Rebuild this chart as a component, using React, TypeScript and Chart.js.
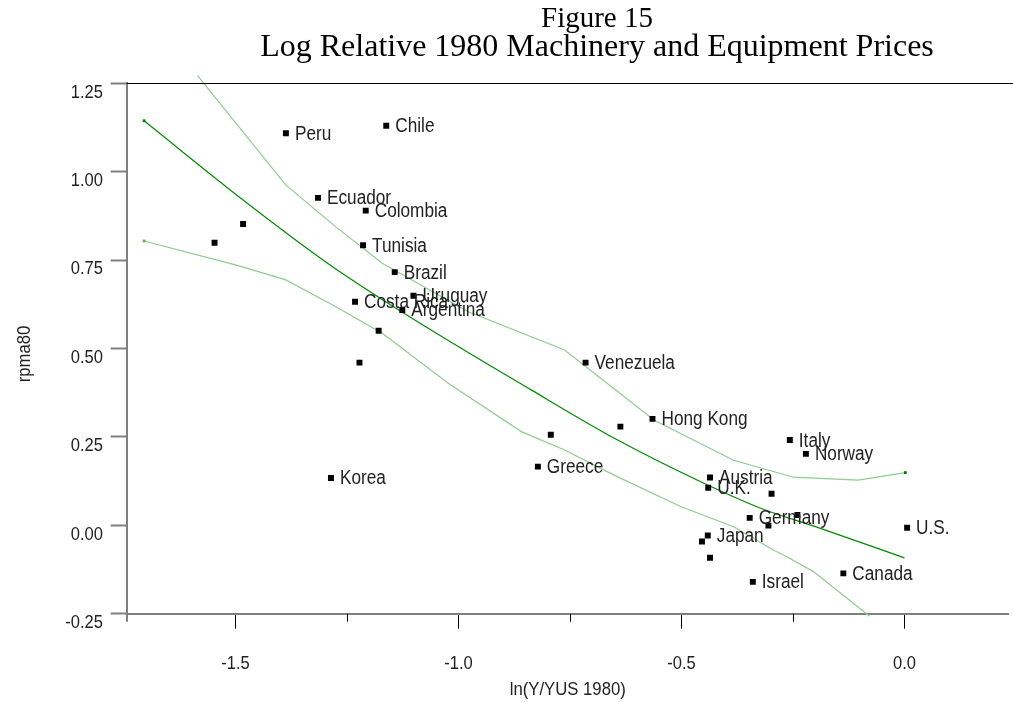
import React, { useEffect, useRef } from "react";
import { Chart, registerables } from "chart.js";

Chart.register(...registerables);

// ---- Data ----
const countries = [
  "Peru", "Chile", "Ecuador", "Colombia", "Tunisia", "Brazil", "Uruguay", "Costa Rica", "Argentina",
  "", "", "", "", "Korea", "Venezuela", "", "Greece", "", "Hong Kong", "Italy", "Norway",
  "Austria", "U.K.", "", "Germany", "", "", "Japan", "", "", "Israel", "Canada", "U.S.",
];
const lnY = [
  -1.387, -1.162, -1.315, -1.208, -1.214, -1.143, -1.101, -1.232, -1.126,
  -1.179, -1.222, -1.483, -1.547, -1.286, -0.715, -0.793, -0.822, -0.637, -0.565, -0.257, -0.221,
  -0.436, -0.440, -0.298, -0.347, -0.240, -0.305, -0.441, -0.454, -0.436, -0.340, -0.137, 0.006,
];
const rpma80 = [
  1.109, 1.130, 0.926, 0.890, 0.792, 0.716, 0.649, 0.632, 0.609,
  0.550, 0.460, 0.852, 0.799, 0.134, 0.460, 0.256, 0.166, 0.279, 0.301, 0.241, 0.202,
  0.135, 0.106, 0.089, 0.021, 0.029, -0.001, -0.029, -0.046, -0.092, -0.160, -0.136, -0.007,
];

const fitX = [-1.705, -1.491, -1.292, -1.125, -0.837, -0.643, -0.465, -0.324, -0.190, 0.0];
const fitY = [1.144, 0.928, 0.740, 0.602, 0.383, 0.241, 0.128, 0.049, -0.008, -0.092];

const upperX = [-1.585, -1.387, -1.275, -1.171, -0.978, -0.762, -0.561, -0.383, -0.249, -0.104, 0.002];
const upperY = [1.272, 0.962, 0.844, 0.741, 0.604, 0.496, 0.297, 0.184, 0.136, 0.128, 0.149];

const lowerX = [-1.705, -1.498, -1.387, -1.275, -1.171, -1.023, -0.859, -0.762, -0.651, -0.502, -0.383, -0.294, -0.271, -0.204, -0.078];
const lowerY = [0.804, 0.736, 0.694, 0.618, 0.543, 0.402, 0.265, 0.213, 0.142, 0.053, -0.004, -0.070, -0.084, -0.131, -0.257];

const xTicks = [-1.5, -1.0, -0.5, 0.0];
const xTickLabels = ["-1.5", "-1.0", "-0.5", "0.0"];
const xMinorTicks = [-1.25, -0.75, -0.25];
const yTicks = [-0.25, 0.0, 0.25, 0.5, 0.75, 1.0, 1.25];
const yTickLabels = ["-0.25", "0.00", "0.25", "0.50", "0.75", "1.00", "1.25"];

const titleLines = ["Figure 15", "Log Relative 1980 Machinery and Equipment Prices"];
const xTitle = "ln(Y/YUS 1980)";
const yTitle = "rpma80";

const SANS = "'Liberation Sans', Arial, sans-serif";
const SERIF = "'Liberation Serif', 'Times New Roman', serif";

function narrowText(
  ctx: CanvasRenderingContext2D,
  text: string,
  x: number,
  y: number,
  size: number,
  sx: number,
  align: CanvasTextAlign,
  baseline: CanvasTextBaseline,
  rot = 0
) {
  ctx.save();
  ctx.translate(x, y);
  if (rot) ctx.rotate(rot);
  ctx.scale(sx, 1);
  ctx.font = `${size}px ${SANS}`;
  ctx.textAlign = align;
  ctx.textBaseline = baseline;
  ctx.fillText(text, 0, 0);
  ctx.restore();
}

export default function App() {
  const ref = useRef<HTMLCanvasElement>(null);

  useEffect(() => {
    const canvas = ref.current;
    if (!canvas) return;
    const pts = lnY.map((x, i) => ({ x, y: rpma80[i] }));
    const line = (xs: number[], ys: number[]) => xs.map((x, i) => ({ x, y: ys[i] }));

    const decor = {
      id: "decor",
      afterDraw(chart: any) {
        const ctx = chart.ctx as CanvasRenderingContext2D;
        const { left, right, top, bottom } = chart.chartArea;
        const xs = chart.scales.x;
        const ys = chart.scales.y;
        ctx.save();
        // top frame line
        ctx.strokeStyle = "#000";
        ctx.lineWidth = 1;
        ctx.beginPath();
        ctx.moveTo(left, Math.round(top) + 0.5);
        ctx.lineTo(chart.width, Math.round(top) + 0.5);
        ctx.stroke();
        // minor x ticks
        ctx.beginPath();
        xMinorTicks.forEach((v) => {
          const px = Math.round(xs.getPixelForValue(v)) + 0.5;
          ctx.moveTo(px, bottom);
          ctx.lineTo(px, bottom + 8);
        });
        ctx.stroke();
        // y axis extension below x axis
        ctx.strokeStyle = "#808080";
        ctx.lineWidth = 2;
        ctx.beginPath();
        ctx.moveTo(Math.round(left), bottom);
        ctx.lineTo(Math.round(left), bottom + 8);
        ctx.stroke();

        // titles
        ctx.fillStyle = "#000";
        ctx.textAlign = "center";
        ctx.textBaseline = "middle";
        ctx.font = `29px ${SERIF}`;
        ctx.fillText(titleLines[0], 597, 19);
        ctx.font = `32px ${SERIF}`;
        ctx.fillText(titleLines[1], 597, 48);

        ctx.fillStyle = "#222";
        // tick labels
        xTicks.forEach((v, i) => {
          narrowText(ctx, xTickLabels[i], xs.getPixelForValue(v), 664, 19, 0.87, "center", "middle");
        });
        yTicks.forEach((v, i) => {
          narrowText(ctx, yTickLabels[i], 103, ys.getPixelForValue(v) + 9, 19, 0.87, "right", "middle");
        });

        // axis titles
        narrowText(ctx, xTitle, (left + right) / 2, 690, 19, 0.88, "center", "middle");
        narrowText(ctx, yTitle, 25, 354, 19, 0.88, "center", "middle", -Math.PI / 2);

        // data labels
        const meta = chart.getDatasetMeta(0);
        meta.data.forEach((el: any, i: number) => {
          const name = countries[i];
          if (name) narrowText(ctx, name, el.x + 9, el.y + 6.5, 20, 0.86, "left", "alphabetic");
        });
        ctx.restore();
      },
    };

    const chart = new Chart(canvas, {
      type: "scatter",
      data: {
        datasets: [
          {
            label: "rpma80",
            data: pts,
            pointStyle: "rect",
            pointRadius: 4.2,
            pointHoverRadius: 4.2,
            backgroundColor: "#000",
            borderWidth: 0,
            order: 0,
          },
          {
            label: "fit",
            data: line(fitX, fitY),
            showLine: true,
            borderColor: "#008a00",
            borderWidth: 1.2,
            cubicInterpolationMode: "monotone",
            pointStyle: "rect",
            pointRadius: fitX.map((_, i) => (i === 0 ? 2 : 0)),
            pointBackgroundColor: "#008000",
            pointBorderWidth: 0,
            order: 1,
            clip: false,
          },
          {
            label: "upper",
            data: line(upperX, upperY),
            showLine: true,
            borderColor: "#8fcc8f",
            borderWidth: 1.2,
            pointStyle: "rect",
            pointRadius: upperX.map((_, i) => (i === upperX.length - 1 ? 2 : 0)),
            pointBackgroundColor: "#008000",
            pointBorderWidth: 0,
            order: 2,
            clip: false,
          },
          {
            label: "lower",
            data: line(lowerX, lowerY),
            showLine: true,
            borderColor: "#8fcc8f",
            borderWidth: 1.2,
            pointStyle: "rect",
            pointRadius: lowerX.map((_, i) => (i === 0 ? 2 : 0)),
            pointBackgroundColor: "#60b060",
            pointBorderWidth: 0,
            order: 3,
            clip: false,
          },
        ],
      },
      options: {
        responsive: false,
        animation: false,
        layout: { padding: { top: 83.3, left: 0, right: 0, bottom: 0 } },
        plugins: { legend: { display: false }, tooltip: { enabled: false } },
        scales: {
          x: {
            type: "linear",
            min: -1.744,
            max: 0.234,
            afterBuildTicks: (s: any) => {
              s.ticks = xTicks.map((v) => ({ value: v }));
            },
            afterFit: (s: any) => {
              s.height = 88.3;
            },
            grid: { drawOnChartArea: false, tickLength: 15, tickColor: "#000", tickWidth: 1 },
            border: { color: "#808080", width: 2 },
            ticks: { display: false, autoSkip: false, maxRotation: 0 },
          },
          y: {
            type: "linear",
            min: -0.25,
            max: 1.25,
            afterBuildTicks: (s: any) => {
              s.ticks = yTicks.map((v) => ({ value: v }));
            },
            afterFit: (s: any) => {
              s.width = 126.7;
            },
            grid: { drawOnChartArea: false, tickLength: 16, tickColor: "#808080", tickWidth: 2 },
            border: { color: "#808080", width: 2 },
            ticks: { display: false, autoSkip: false },
          },
        },
      },
      plugins: [decor],
    });
    return () => chart.destroy();
  }, []);

  return (
    <div style={{ position: "absolute", left: 0, top: 0, width: 1013, height: 702 }}>
      <canvas ref={ref} width={1013} height={702} style={{ width: 1013, height: 702 }} />
    </div>
  );
}
